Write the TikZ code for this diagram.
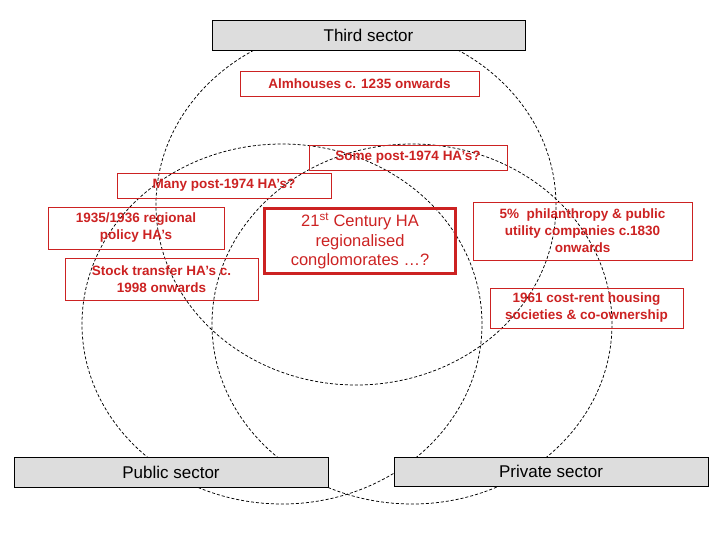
\documentclass[tikz,border=0pt]{standalone}
\usepackage{fontspec}
\setmainfont{Liberation Sans}
\usepackage{tikz}
\usetikzlibrary{positioning}
\definecolor{hared}{RGB}{204,34,34}
\definecolor{sectorgray}{RGB}{221,221,221}
\tikzset{
  sectorbox/.style={draw=black,fill=sectorgray,inner sep=0pt,
    font=\fontsize{17}{20}\selectfont},
  habox/.style={draw=hared,text=hared,align=center,inner sep=0pt,
    font=\fontsize{13.5}{17}\selectfont\bfseries},
  bigbox/.style={draw=hared,line width=3pt,text=hared,align=center,inner sep=0pt,
    font=\fontsize{16.5}{19.5}\selectfont},
  sectorring/.style={dashed,dash pattern=on 3pt off 2pt,line width=0.75pt}
}

\begin{document}
\begin{tikzpicture}[x=1pt,y=-1pt]
    \useasboundingbox (0,0) rectangle (720,540);

    % The three sectors as overlapping rings
    \draw[sectorring] (356,205) ellipse [x radius=200pt, y radius=180pt];
    \draw[sectorring] (282,324) ellipse [x radius=200pt, y radius=180pt];
    \draw[sectorring] (412,324) ellipse [x radius=200pt, y radius=180pt];

    % Sector labels
    \node (third_sector) [sectorbox,minimum width=313pt,minimum height=30pt] at (368.5,35) {Third sector};
    \node (public_sector) [sectorbox,minimum width=314pt,minimum height=30pt] at (171,472) {Public sector};
    \node (private_sector) [sectorbox,minimum width=314pt,minimum height=29pt] at (551,471.5) {Private sector};

    % Kinds of housing associations
    \node (almhouses) [habox,minimum width=239pt,minimum height=25pt] at (359.5,83.5) {Almhouses c. 1235 onwards};
    \node (some_post) [habox,minimum width=198pt,minimum height=25pt] at (408,157.5) {Some post-1974 HA’s?};
    \node (many_post) [habox,minimum width=214pt,minimum height=25pt] at (224,185.5) {Many post-1974 HA’s?};
    \node (regional_policy) [habox,minimum width=176pt,minimum height=42pt] at (136,228) {1935/1936 regional\\policy HA’s};
    \node (stock_transfer) [habox,minimum width=193pt,minimum height=42pt] at (161.5,279) {Stock transfer HA’s c.\\1998 onwards};
    \node (philanthropy) [habox,minimum width=219pt,minimum height=58pt] at (582.5,231) {5\%\ \ philanthropy \& public\\utility companies c.1830\\onwards};
    \node (cost_rent) [habox,minimum width=193pt,minimum height=40pt] at (586.5,308) {1961 cost-rent housing\\societies \& co-ownership};

    % The centre of the diagram
    \node (century_ha) [bigbox,minimum width=191pt,minimum height=65pt] at (360,241) {21\textsuperscript{st} Century HA\\regionalised\\conglomorates …?};
\end{tikzpicture}
\end{document}
